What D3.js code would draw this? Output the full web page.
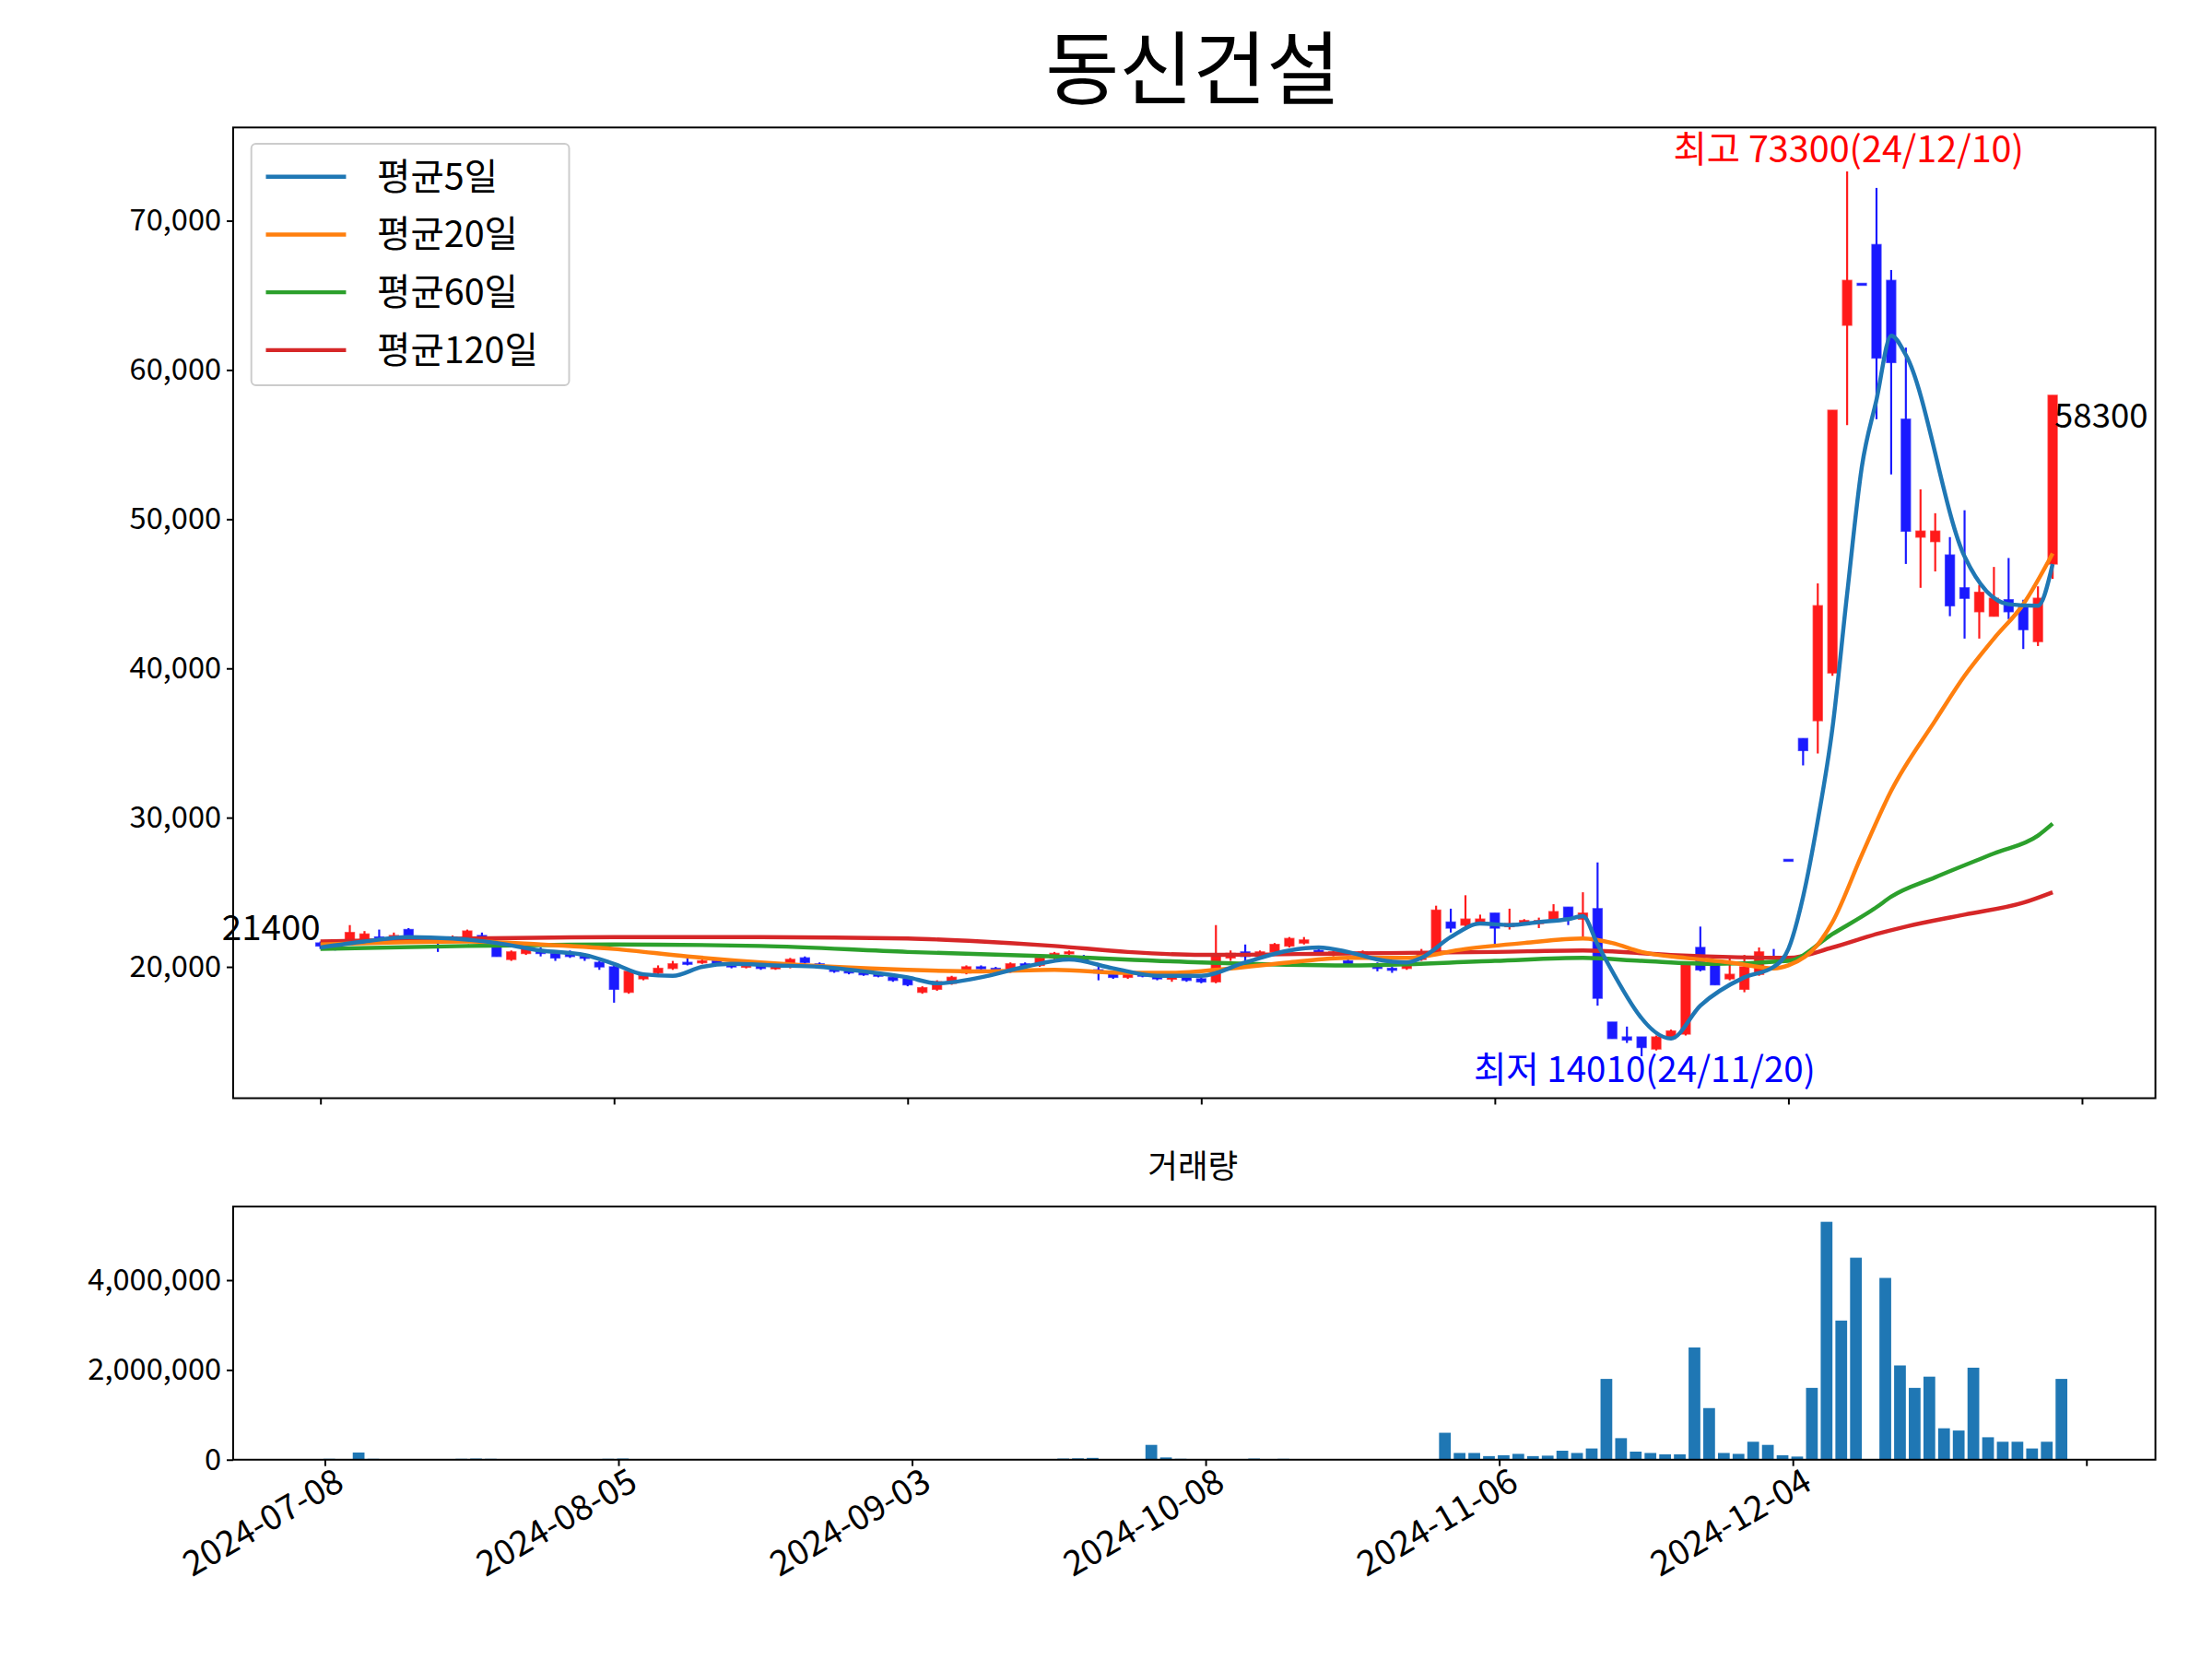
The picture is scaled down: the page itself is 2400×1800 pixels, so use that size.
<!DOCTYPE html>
<html><head><meta charset="utf-8">
<script src="https://cdn.jsdelivr.net/npm/d3@7"></script>
<style>body{margin:0;background:#fff}text{font-family:"Noto Sans CJK KR","Noto Sans",sans-serif}</style>
</head><body>
<script>
// OHLC per trading day, 2024-07-08 onwards
var candles = [
 [21600,21700,21200,21400],[21400,21500,21100,21300],[21700,22800,21600,22300],[21800,22400,21700,22200],
 [22000,22500,21700,21900],[21900,22300,21800,22100],[22500,22600,22000,22100],[21900,22000,21700,21800],
 [21800,21900,21000,21700],[21800,22100,21700,22000],[22000,22500,21900,22400],[22100,22300,21800,21900],
 [21400,21500,20700,20700],[20500,21100,20400,21000],[20900,21300,20800,21200],[21100,21300,20700,20900],
 [20900,21000,20400,20600],[20900,21100,20600,20700],[20700,20900,20400,20600],[20300,20400,19800,20000],
 [20000,20100,17600,18500],[18300,19800,18200,19700],[19200,19600,19100,19400],[19600,20100,19500,19900],
 [19900,20400,19800,20200],[20300,20600,20100,20300],[20300,20600,20200,20400],[20400,20500,20100,20200],
 [20200,20300,19900,20000],[20000,20200,19900,20100],[20100,20200,19800,19900],[19900,20100,19800,20000],
 [20000,20600,19900,20500],[20600,20700,20200,20300],[20200,20300,19900,20000],[19900,20000,19600,19700],
 [19800,19900,19500,19600],[19600,19700,19400,19500],[19500,19600,19300,19400],[19300,19400,19000,19100],
 [19200,19300,18700,18800],[18300,18700,18200,18600],[18500,19100,18400,19000],[18900,19400,18800,19300],
 [19600,20100,19500,20000],[20000,20100,19800,19900],[19900,20000,19700,19800],[19700,20300,19600,20200],
 [20200,20300,19900,20000],[20100,20700,20000,20600],[20600,21000,20500,20900],[20900,21100,20800,21000],
 [20700,20800,20300,20400],[19800,20100,19100,19600],[19500,19700,19200,19300],[19300,19600,19200,19500],
 [19500,19600,19300,19400],[19400,19500,19100,19200],[19200,19400,19000,19300],[19300,19400,19000,19100],
 [19200,19300,18900,19000],[19000,22800,18900,20800],[20600,21100,20400,20900],[21000,21500,20400,20700],
 [20700,21100,20500,21000],[21000,21600,20900,21500],[21400,22000,21300,21900],[21600,22000,21500,21800],
 [21100,21300,20900,21000],[20900,21100,20700,21000],[20400,20600,20000,20200],[20600,21100,20500,21000],
 [20100,20300,19700,19900],[19900,20000,19600,19800],[19900,20300,19800,20200],[20500,21200,20400,20900],
 [21000,24100,20900,23800],[23000,23900,22300,22600],[22800,24800,22700,23200],[22900,23500,22800,23200],
 [23600,23600,21400,22600],[22700,23900,22500,22900],[22900,23200,22800,23100],[22900,23300,22600,23100],
 [23200,24200,23100,23700],[24000,24000,22800,23300],[23200,25000,21800,23600],[23900,27000,17400,17900],
 [16300,16300,15200,15200],[15300,16000,14900,15100],[15300,15300,14010,14600],[14500,15400,14400,15300],
 [15200,15800,15100,15700],[15500,20300,15400,20200],[21300,22700,19700,19800],[20300,20300,18800,18800],
 [19200,20600,19100,19500],[18500,20800,18300,20000],[19500,21300,19400,21000],[20700,21200,20600,20700],
 [27200,27200,27200,27200],[35300,35300,33500,34500],[36500,45700,34300,44200],[39700,57300,39500,57300],
 [63000,73300,56300,66000],[65800,65800,65800,65800],[68400,72200,56700,60800],[66000,66700,53000,60500],
 [56700,61500,47000,49200],[48800,52000,45400,49200],[48500,50400,46500,49200],[47600,48800,43500,44200],
 [45400,50600,42000,44700],[43800,45600,42000,45100],[43500,46800,43500,44700],[44600,47400,43300,43800],
 [44200,44600,41300,42600],[41800,45500,41500,44700],[47000,58300,46000,58300]
];
var volumes = [
 20000,15000,160000,20000,15000,10000,10000,10000,10000,20000,25000,20000,15000,10000,10000,10000,
 15000,10000,10000,20000,25000,15000,10000,10000,10000,10000,10000,8000,8000,8000,8000,8000,
 8000,8000,8000,8000,8000,8000,8000,8000,8000,8000,8000,8000,8000,8000,8000,8000,
 10000,15000,25000,30000,40000,15000,10000,10000,330000,50000,20000,10000,10000,10000,15000,25000,
 15000,20000,15000,10000,10000,8000,8000,8000,8000,10000,10000,10000,600000,150000,150000,80000,100000,
 130000,80000,90000,200000,150000,250000,1800000,480000,180000,150000,120000,120000,2500000,1150000,150000,130000,
 400000,330000,100000,70000,1600000,5300000,3100000,4500000,0,4050000,2100000,1600000,1850000,700000,650000,2050000,
 500000,400000,400000,250000,400000,1800000
];
// moving averages: [day, value]
var ma5 = [[0,21300],[3,21700],[6,22000],[9,21900],[12,21600],[15,21100],[18,20800],[20,20200],[22,19500],[24,19400],
 [26,20000],[28,20200],[31,20100],[34,20000],[37,19700],[40,19300],[42,18900],[45,19300],[48,20000],[51,20500],
 [54,19900],[57,19400],[60,19400],[63,20300],[66,21100],[68,21300],[70,21000],[72,20500],[74,20300],[75,20600],
 [77,22000],[79,22900],[81,22800],[83,23000],[85,23200],[86,23400],[87,21500],[92,15200],[94,17400],[97,19300],
 [99,20000],[100,21200],[101,24700],[102,29800],[103,36000],[104,45000],[105,53500],[106,58000],[107,62300],[108,61000],
 [112,47500],[115,44300],[117,44200],[118,47000]];
var ma20 = [[0,21500],[10,21700],[15,21500],[20,21200],[25,20700],[30,20300],[35,20000],[40,19800],[45,19700],[50,19800],
 [55,19600],[58,19600],[62,19900],[66,20300],[70,20600],[74,20600],[78,21200],[82,21600],[86,21900],[88,21600],
 [90,21000],[93,20600],[96,20300],[99,19900],[100,20100],[102,21500],[103,23000],[105,27500],[107,31800],[110,36500],
 [112,39500],[114,42000],[116,44300],[118,47700]];
var ma60 = [[0,21200],[10,21400],[20,21500],[30,21400],[40,21000],[50,20700],[60,20300],[70,20100],[80,20400],[86,20600],
 [90,20400],[95,20200],[100,20400],[103,22200],[106,24000],[107,24700],[110,26000],[114,27600],[117,28800],[118,29600]];
var ma120 = [[0,21700],[10,21900],[20,22000],[30,22000],[40,21900],[45,21700],[50,21400],[55,21000],[60,20800],[70,20900],
 [80,21000],[86,21100],[92,20800],[100,20600],[103,21300],[106,22200],[108,22700],[112,23500],[116,24300],[118,25000]];
var tickDays = [0,20,40,60,80,100,120];
var tickLabels = ["2024-07-08","2024-08-05","2024-09-03","2024-10-08","2024-11-06","2024-12-04",""];
var legendNames = ["평균5일","평균20일","평균60일","평균120일"];
var lineColors = ["#1f77b4","#ff7f0e","#2ca02c","#d62728"];

var W = 2400, H = 1800;
var svg0 = d3.select("body").append("svg").attr("width", W).attr("height", H);
var svg = svg0.append("g").attr("transform", "scale(0.988)");
var L = 256, R = 2367;
var x = d3.scaleLinear().domain([-5.95, 125]).range([L, R]);
var y = d3.scaleLinear().domain([11200, 76250]).range([1206, 140]);
var xv = d3.scaleLinear().domain([-6.25, 124.7]).range([L, R]);
var yv = d3.scaleLinear().domain([0, 5640000]).range([1603, 1325]);
var fmt = d3.format(",d");

svg.append("text").attr("x", 1310).attr("y", 108).attr("text-anchor", "middle")
  .style("font-size", "88px").text("동신건설");

// main axes
var gy = svg.append("g").attr("transform", "translate(" + L + ",0)")
  .call(d3.axisLeft(y).tickValues([20000,30000,40000,50000,60000,70000]).tickFormat(fmt).tickSize(7).tickPadding(6));
var gx = svg.append("g").attr("transform", "translate(0,1206)")
  .call(d3.axisBottom(x).tickValues(tickDays).tickFormat("").tickSize(7));

// candles
var w = 0.62 * (x(1) - x(0));
var cg = svg.append("g");
candles.forEach(function(c, i) {
  var up = c[3] > c[0], col = up ? "#ff1a1a" : "#1a1aff";
  cg.append("line").attr("x1", x(i)).attr("x2", x(i)).attr("y1", y(c[1])).attr("y2", y(c[2]))
    .attr("stroke", col).attr("stroke-width", 2.2);
  var top = y(Math.max(c[0], c[3])), h = Math.abs(y(c[0]) - y(c[3]));
  cg.append("rect").attr("x", x(i) - w / 2).attr("y", top).attr("width", w).attr("height", Math.max(h, 2))
    .attr("fill", col).attr("stroke", col).attr("stroke-opacity", 0.7).attr("stroke-width", 1.5);
});

// moving averages
var line = d3.line().x(function(d) { return x(d[0]); }).y(function(d) { return y(d[1]); }).curve(d3.curveMonotoneX);
[ma120, ma60, ma20, ma5].forEach(function(s, k) {
  svg.append("path").attr("d", line(s)).attr("fill", "none")
    .attr("stroke", lineColors[3 - k]).attr("stroke-width", 4.5);
});

// annotations
svg.append("text").attr("x", 2030).attr("y", 178).attr("text-anchor", "middle").attr("fill", "red")
  .style("font-size", "40px").text("최고 73300(24/12/10)");
svg.append("text").attr("x", 1806).attr("y", 1188).attr("text-anchor", "middle").attr("fill", "blue")
  .style("font-size", "39px").text("최저 14010(24/11/20)");
svg.append("text").attr("x", x(0)).attr("y", 1032).attr("text-anchor", "end")
  .style("font-size", "39px").text("21400");
svg.append("text").attr("x", x(118) + 2).attr("y", 470)
  .style("font-size", "37px").text("58300");

// legend
var lg = svg.append("g");
lg.append("rect").attr("x", 276).attr("y", 158).attr("width", 349).attr("height", 265).attr("rx", 5)
  .attr("fill", "#fff").attr("fill-opacity", 0.8).attr("stroke", "#ccc").attr("stroke-width", 2);
legendNames.forEach(function(n, i) {
  var yy = 194 + i * 63.5;
  lg.append("line").attr("x1", 292).attr("x2", 380).attr("y1", yy).attr("y2", yy)
    .attr("stroke", lineColors[i]).attr("stroke-width", 4.5);
  lg.append("text").attr("x", 414).attr("y", yy + 14).style("font-size", "40px").text(n);
});

svg.append("rect").attr("x", L).attr("y", 140).attr("width", R - L).attr("height", 1066)
  .attr("fill", "none").attr("stroke", "#000").attr("stroke-width", 2);

// volume panel
svg.append("text").attr("x", 1310).attr("y", 1294).attr("text-anchor", "middle")
  .style("font-size", "36px").text("거래량");
var bw = 0.8 * (xv(1) - xv(0));
svg.append("g").selectAll("rect").data(volumes).enter().append("rect")
  .attr("x", function(d, i) { return xv(i + 0.3) - bw / 2; })
  .attr("width", bw)
  .attr("y", function(d) { return yv(d); })
  .attr("height", function(d) { return yv(0) - yv(d); })
  .attr("fill", "#1f77b4");
var gvy = svg.append("g").attr("transform", "translate(" + L + ",0)")
  .call(d3.axisLeft(yv).tickValues([0, 2000000, 4000000]).tickFormat(fmt).tickSize(7).tickPadding(6));
var gvx = svg.append("g").attr("transform", "translate(0,1603)")
  .call(d3.axisBottom(xv).tickValues(tickDays).tickFormat(function(d, i) { return tickLabels[i]; }).tickSize(7));
svg.append("rect").attr("x", L).attr("y", 1325).attr("width", R - L).attr("height", 278)
  .attr("fill", "none").attr("stroke", "#000").attr("stroke-width", 2);

[gy, gx, gvy, gvx].forEach(function(g) {
  g.select(".domain").remove();
  g.selectAll(".tick line").attr("stroke-width", 2);
  g.selectAll("text").style("font-size", "33px").style("font-family", '"Noto Sans CJK KR","Noto Sans",sans-serif');
});
gvx.selectAll("text").style("font-size", "38px").attr("text-anchor", "end").attr("dx", "0.1em").attr("dy", "0.75em")
  .attr("transform", "rotate(-30)");
</script>
</body></html>
